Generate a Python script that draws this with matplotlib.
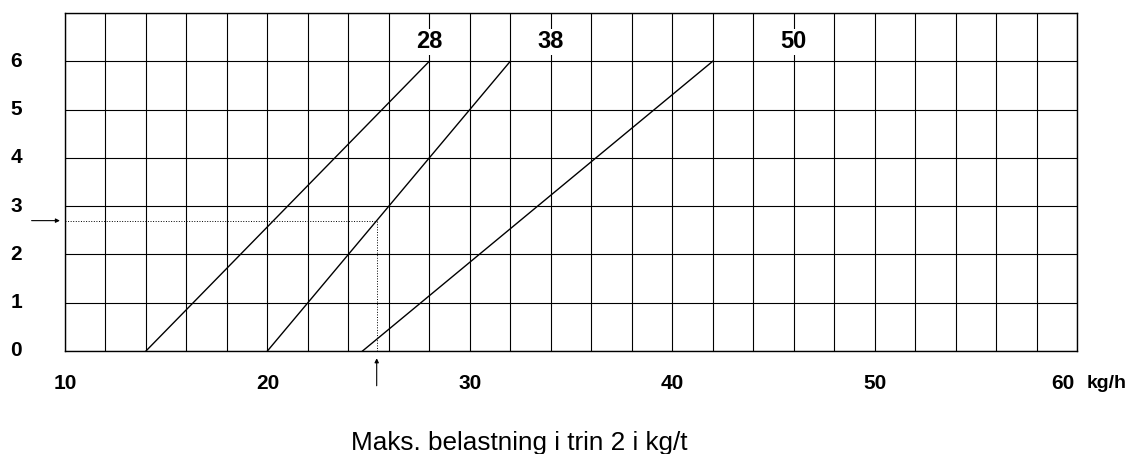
import matplotlib.pyplot as plt

# load curves: (start x at 0, end x at 6) for each label
curve_labels = ['28', '38', '50']
curve_x0 = [14, 20, 24.7]
curve_x1 = [28, 32, 42]
curve_y = [0, 6]
label_x = [28, 34, 46]

x_ticks = [10, 20, 30, 40, 50, 60]
x_tick_pos = [10, 20, 30, 40, 50, 59.3]   # "60" sits a bit left, next to the unit
y_ticks = [0, 1, 2, 3, 4, 5, 6]

# reading example
read_y = 2.7
read_x = 25.4

plt.rcParams['font.family'] = ['Liberation Sans', 'DejaVu Sans']

fig = plt.figure(figsize=(11.31, 4.54), dpi=100)
ax = fig.add_axes([65 / 1131, 103 / 454, 1012 / 1131, 338 / 454])
ax.set_xlim(10, 60)
ax.set_ylim(0, 7)

ax.set_xticks(range(10, 61, 2))
ax.set_yticks(range(0, 8))
ax.tick_params(length=0, labelbottom=False, labelleft=False)
ax.grid(True, color='black', linewidth=0.8)
for s in ax.spines.values():
    s.set_color('black')
    s.set_linewidth(1)

for lab, x0, x1, lx in zip(curve_labels, curve_x0, curve_x1, label_x):
    ax.plot([x0, x1], curve_y, color='black', linewidth=1)
    ax.text(lx, 6.4, lab, ha='center', va='center', fontsize=17, fontweight='bold',
            bbox=dict(facecolor='white', edgecolor='none', pad=1.0))

# dotted reading lines
ax.plot([10, read_x], [read_y, read_y], color='black', linestyle=':', linewidth=0.7)
ax.plot([read_x, read_x], [0, read_y], color='black', linestyle=':', linewidth=0.7)

# arrows
ax.annotate('', xy=(9.75, read_y), xytext=(8.35, read_y), annotation_clip=False,
            arrowprops=dict(arrowstyle='-|>', color='black', lw=0.8, mutation_scale=6,
                            shrinkA=0, shrinkB=0))
ax.annotate('', xy=(read_x, -0.15), xytext=(read_x, -0.72), annotation_clip=False,
            arrowprops=dict(arrowstyle='-|>', color='black', lw=0.8, mutation_scale=6,
                            shrinkA=0, shrinkB=0))

for t, xp in zip(x_ticks, x_tick_pos):
    ax.text(xp, -0.68, str(t), ha='center', va='center', fontsize=15, fontweight='bold',
            clip_on=False)
ax.text(60.5, -0.68, 'kg/h', ha='left', va='center', fontsize=14, fontweight='bold',
        clip_on=False)

for t in y_ticks:
    ax.text(7.6, t, str(t), ha='center', va='center', fontsize=15, fontweight='bold',
            clip_on=False)

fig.text(519 / 1131, 1 - 450 / 454, 'Maks. belastning i trin 2 i kg/t',
         ha='center', va='baseline', fontsize=18.8)

fig.savefig('out.png', dpi=100)
